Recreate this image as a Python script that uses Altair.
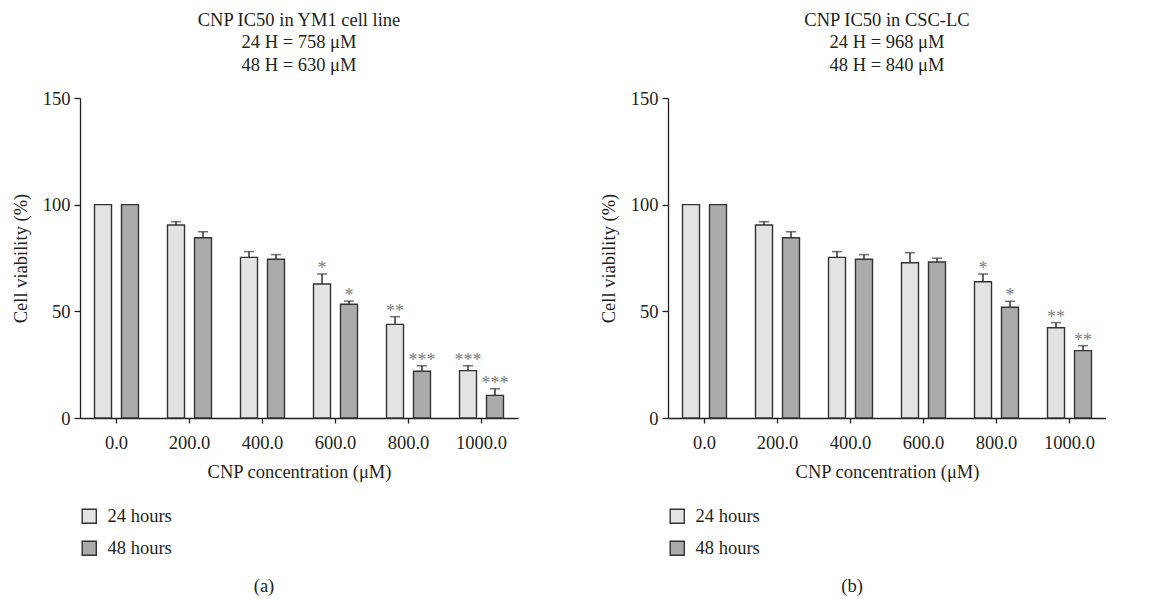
import altair as alt
import pandas as pd

# ---------------- data ----------------
conc = ["0.0", "200.0", "400.0", "600.0", "800.0", "1000.0"]
series = ["24 hours", "48 hours"]

ym1_24 = [100, 90.5, 75.3, 62.8, 43.9, 22.2]
ym1_24_err = [0, 1.5, 2.7, 4.7, 3.6, 2.3]
ym1_24_sig = ["", "", "", "*", "**", "***"]
ym1_48 = [100, 84.5, 74.4, 53.3, 21.9, 10.6]
ym1_48_err = [0, 2.8, 2.2, 1.5, 2.6, 3.1]
ym1_48_sig = ["", "", "", "*", "***", "***"]

csc_24 = [100, 90.5, 75.3, 72.8, 63.9, 42.3]
csc_24_err = [0, 1.5, 2.7, 4.7, 3.6, 2.4]
csc_24_sig = ["", "", "", "", "*", "**"]
csc_48 = [100, 84.5, 74.4, 73.1, 51.9, 31.6]
csc_48_err = [0, 2.8, 2.2, 1.8, 2.8, 2.3]
csc_48_sig = ["", "", "", "", "*", "**"]

ym1_title = ["CNP IC50 in YM1 cell line", "24 H = 758 μM", "48 H = 630 μM"]
csc_title = ["CNP IC50 in CSC-LC", "24 H = 968 μM", "48 H = 840 μM"]

FONT = "Liberation Serif"
INK = "#231f20"
FS = 18.5
LIGHT = "#e3e3e3"
DARK = "#ababab"
EDGE = "#333333"


def make_df(v24, e24, s24, v48, e48, s48):
    rows = []
    for i, c in enumerate(conc):
        rows.append({"conc": c, "series": series[0], "value": v24[i], "err": e24[i], "sig": s24[i]})
        rows.append({"conc": c, "series": series[1], "value": v48[i], "err": e48[i], "sig": s48[i]})
    return pd.DataFrame(rows)


def panel(df, title, letter):
    base = alt.Chart(df).transform_calculate(top="datum.value + datum.err").encode(
        x=alt.X(
            "conc:N",
            sort=conc,
            scale=alt.Scale(paddingInner=0, paddingOuter=0),
            axis=alt.Axis(
                title="CNP concentration (μM)",
                labelAngle=0,
                tickSize=5,
                labelPadding=10,
                titlePadding=11,
            ),
        ),
        xOffset=alt.XOffset(
            "series:N",
            sort=series,
            scale=alt.Scale(paddingInner=0.37, paddingOuter=0.537),
        ),
    )
    yscale = alt.Scale(domain=[0, 150], nice=False)
    bars = base.mark_bar(stroke=EDGE, strokeWidth=1.4).encode(
        y=alt.Y(
            "value:Q",
            scale=yscale,
            axis=alt.Axis(
                title="Cell viability (%)",
                values=[0, 50, 100, 150],
                tickSize=6,
                labelPadding=4,
                titlePadding=12,
                grid=False,
            ),
        ),
        color=alt.Color(
            "series:N",
            sort=series,
            scale=alt.Scale(domain=series, range=[LIGHT, DARK]),
            legend=alt.Legend(
                title=None,
                orient="none",
                legendX=0,
                legendY=409,
                direction="vertical",
                symbolType="square",
                symbolSize=200,
                symbolStrokeColor=EDGE,
                symbolStrokeWidth=1.4,
                symbolOpacity=1,
                labelFont=FONT,
                labelFontSize=FS,
                labelColor=INK,
                labelOffset=9,
                rowPadding=11,
                padding=0,
            ),
        ),
    )
    err = base.transform_filter("datum.err > 0").mark_rule(color=EDGE, strokeWidth=1.5).encode(
        y=alt.Y("value:Q", scale=yscale, title="Cell viability (%)"),
        y2="top:Q",
    )
    cap = base.transform_filter("datum.err > 0").mark_tick(
        orient="horizontal", size=10, thickness=1.5, color=EDGE
    ).encode(y=alt.Y("top:Q", scale=yscale, title="Cell viability (%)"))
    stars = base.mark_text(
        font=FONT, fontSize=18, color="#808080", baseline="alphabetic", dy=0
    ).encode(y=alt.Y("top:Q", scale=yscale, title="Cell viability (%)"), text="sig:N")
    lab = alt.Chart(pd.DataFrame({"t": [letter]})).mark_text(
        font=FONT, fontSize=FS, color=INK, baseline="middle", align="center"
    ).encode(x=alt.value(184), y=alt.value(488), text="t:N")

    return alt.layer(bars, err, cap, stars, lab).properties(
        width=438,
        height=320,
        title=alt.Title(
            text=title,
            font=FONT,
            fontSize=FS,
            fontWeight="normal",
            color=INK,
            anchor="middle",
            frame="group",
            lineHeight=22.5,
            offset=15,
        ),
    )


left = panel(make_df(ym1_24, ym1_24_err, ym1_24_sig, ym1_48, ym1_48_err, ym1_48_sig), ym1_title, "(a)")
right = panel(make_df(csc_24, csc_24_err, csc_24_sig, csc_48, csc_48_err, csc_48_sig), csc_title, "(b)")

chart = (
    alt.hconcat(left, right, spacing=81)
    .resolve_scale(color="independent", y="independent", x="independent")
    .resolve_legend(color="independent")
    .properties(padding={"left": 3, "top": 2, "right": 0, "bottom": 0})
    .configure_view(stroke=None)
    .configure_axis(
        labelFont=FONT,
        labelFontSize=FS,
        labelColor=INK,
        titleFont=FONT,
        titleFontSize=FS,
        titleFontWeight="normal",
        titleColor=INK,
        domainColor=INK,
        tickColor=INK,
        domainWidth=1.3,
        tickWidth=1.3,
    )
)

chart.save("out.html", embed_options={"renderer": "svg", "actions": False})
